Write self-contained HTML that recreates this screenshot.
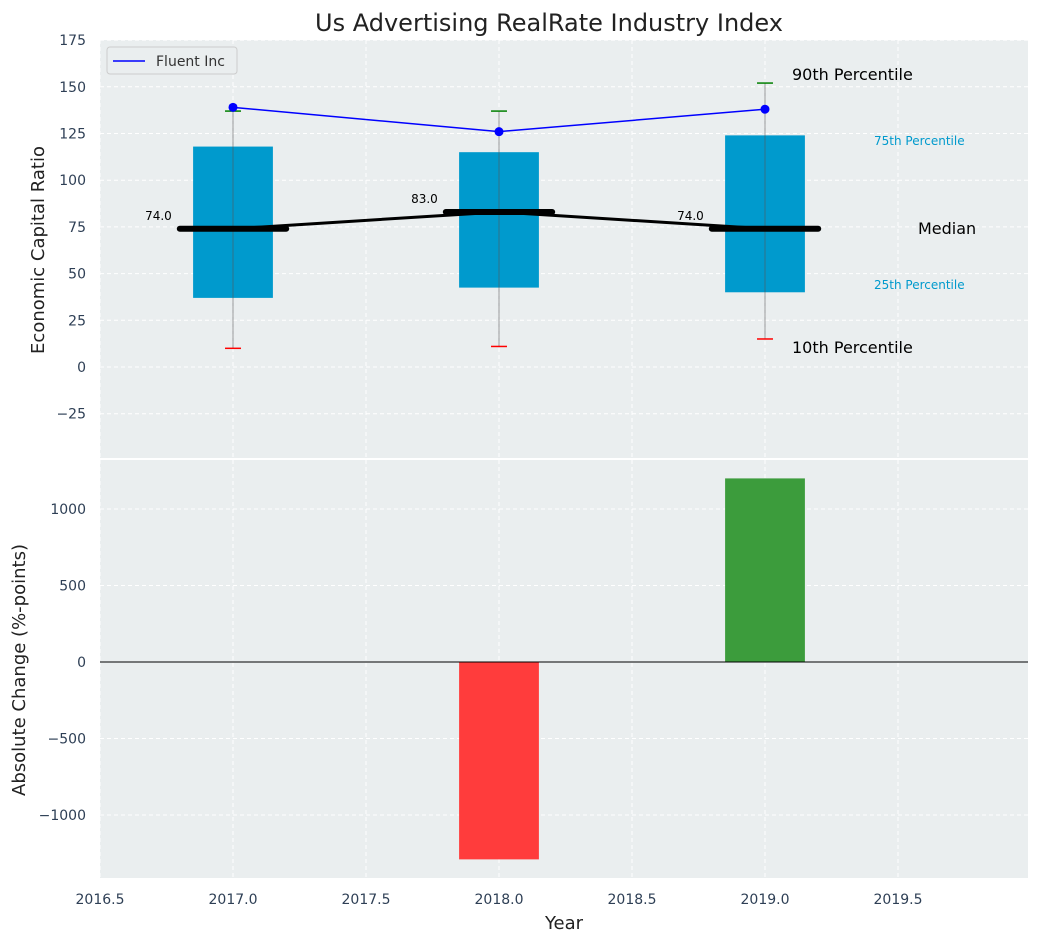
<!DOCTYPE html>
<html><head><meta charset="utf-8"><style>
body{margin:0;background:#fff;font-family:"Liberation Sans","DejaVu Sans",sans-serif;}
svg text{font-family:"DejaVu Sans","Liberation Sans",sans-serif;}
</style></head><body>
<svg id="c" width="1039" height="942" xmlns="http://www.w3.org/2000/svg"></svg>
<script>
const years=[2017,2018,2019];
const p10=[10,11,15];
const p25=[37,42.5,40];
const med=[74,83,74];
const p75=[118,115,124];
const p90=[137,137,152];
const fluent=[139,126,138];
const change=[0,-1290,1200];
const xTicks=[2016.5,2017,2017.5,2018,2018.5,2019,2019.5];
const yTopTicks=[-25,0,25,50,75,100,125,150,175];
const yBotTicks=[-1000,-500,0,500,1000];

const NS="http://www.w3.org/2000/svg";
const svg=document.getElementById('c');
function el(t,a,p){const e=document.createElementNS(NS,t);for(const k in a)e.setAttribute(k,a[k]);(p||svg).appendChild(e);return e;}
const L=100,R=1028;
const X=v=>L+(v-2016.5)*266;
const YT=v=>367-v*1.868;
const YB=v=>662-v*0.153;
// backgrounds
let b1=el('rect',{x:L,y:40,width:R-L,height:418,fill:'#eaeeef'});

let b2=el('rect',{x:L,y:460,width:R-L,height:418,fill:'#eaeeef'});

// grids
xTicks.forEach(t=>{
 el('line',{x1:X(t),x2:X(t),y1:40,y2:458,stroke:'#fff','stroke-dasharray':'4,3','stroke-width':1});
 el('line',{x1:X(t),x2:X(t),y1:460,y2:878,stroke:'#fff','stroke-dasharray':'4,3','stroke-width':1});
 const tx=el('text',{x:X(t),y:904,'text-anchor':'middle','font-size':14,fill:'#2e3f55'});tx.textContent=t.toFixed(1);
 
});
yTopTicks.forEach(t=>{
 el('line',{x1:L,x2:R,y1:YT(t),y2:YT(t),stroke:'#fff','stroke-dasharray':'4,3'});
 const tx=el('text',{x:86,y:YT(t)+5,'text-anchor':'end','font-size':14,fill:'#2e3f55'});tx.textContent=t<0?'\u2212'+(-t):t;
 
});
yBotTicks.forEach(t=>{
 el('line',{x1:L,x2:R,y1:YB(t),y2:YB(t),stroke:'#fff','stroke-dasharray':'4,3'});
 const tx=el('text',{x:86,y:YB(t)+5,'text-anchor':'end','font-size':14,fill:'#2e3f55'});tx.textContent=t<0?'\u2212'+(-t):t;
 
});
// boxes
years.forEach((y,i)=>{
 const bx=el('rect',{x:X(y-0.15),y:YT(p75[i]),width:X(y+0.15)-X(y-0.15),height:YT(p25[i])-YT(p75[i]),fill:'#009acd'});
 
 el('line',{x1:X(y),x2:X(y),y1:YT(p10[i]),y2:YT(p90[i]),stroke:'#555','stroke-width':0.8,opacity:0.7});
 el('line',{x1:X(y-0.03),x2:X(y+0.03),y1:YT(p10[i]),y2:YT(p10[i]),stroke:'red','stroke-width':1.5});
 el('line',{x1:X(y-0.03),x2:X(y+0.03),y1:YT(p90[i]),y2:YT(p90[i]),stroke:'green','stroke-width':1.5});
 const m=el('line',{x1:X(y-0.2),x2:X(y+0.2),y1:YT(med[i]),y2:YT(med[i]),stroke:'#000','stroke-width':6,'stroke-linecap':'round'});
 
 const t=el('text',{x:X(y-0.23),y:YT(med[i])-9,'text-anchor':'end','font-size':12});t.textContent=med[i].toFixed(1);
 
 const br=el('rect',{x:X(y-0.15),y:Math.min(YB(0),YB(change[i])),width:X(y+0.15)-X(y-0.15),height:Math.abs(YB(change[i])-YB(0)),fill:change[i]<0?'#ff3c3c':'#3c9c3c'});
 
});
el('polyline',{points:years.map((y,i)=>X(y)+','+YT(med[i])).join(' '),fill:'none',stroke:'#000','stroke-width':3});
el('polyline',{points:years.map((y,i)=>X(y)+','+YT(fluent[i])).join(' '),fill:'none',stroke:'blue','stroke-width':1.5});
years.forEach((y,i)=>{const c=el('circle',{cx:X(y),cy:YT(fluent[i]),r:4.5,fill:'blue'});});
el('line',{x1:L,x2:R,y1:YB(0),y2:YB(0),stroke:'#000','stroke-width':1});
// side labels
function txt(s,x,y,fs,col,name,anchor){const t=el('text',{x:x,y:y,'font-size':fs,fill:col,'text-anchor':anchor||'start'});t.textContent=s;return t;}
txt('90th Percentile',792,80,16,'#000','label-90th');
txt('75th Percentile',874,145,12,'#009acd','label-75th');
txt('Median',918,234,16,'#000','label-median');
txt('25th Percentile',874,289,12,'#009acd','label-25th');
txt('10th Percentile',792,353,16,'#000','label-10th');
// legend
const lg=el('rect',{x:107,y:47,width:130,height:27,fill:'#eaeeef',stroke:'#ccc',rx:3});

el('line',{x1:113,x2:145,y1:61,y2:61,stroke:'blue','stroke-width':1.5});
txt('Fluent Inc',156,66,14,'#333','legend-fluent');
// titles
txt('Us Advertising RealRate Industry Index',549,31,24,'#222','chart-title','middle');
txt('Year',564,929,18,'#222','x-axis-title','middle');
const yt=txt('Economic Capital Ratio',0,0,18,'#222','y-axis-title-top','middle');yt.setAttribute('transform','translate(44,250) rotate(-90)');
const yb=txt('Absolute Change (%-points)',0,0,18,'#222','y-axis-title-bottom','middle');yb.setAttribute('transform','translate(25,670) rotate(-90)');
</script>
</body></html>
